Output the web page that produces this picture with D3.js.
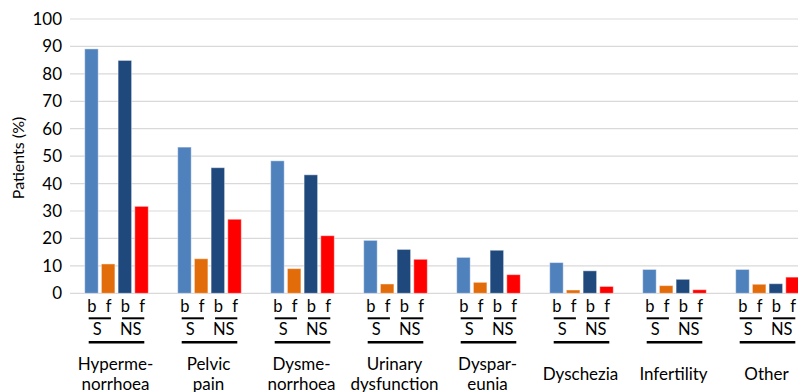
<!DOCTYPE html>
<html>
<head>
<meta charset="utf-8">
<script src="https://cdn.jsdelivr.net/npm/d3@7"></script>
<style>
  body { margin: 0; background: #fff; }
  svg { display: block; font-family: Lato, "Open Sans", sans-serif; }
</style>
</head>
<body>
<script>
const categories = ["Hypermenorrhoea", "Pelvic pain", "Dysmenorrhoea", "Urinary dysfunction",
  "Dyspareunia", "Dyschezia", "Infertility", "Other"];
const categoryLines = [["Hyperme-", "norrhoea"], ["Pelvic", "pain"], ["Dysme-", "norrhoea"],
  ["Urinary", "dysfunction"], ["Dyspar-", "eunia"], ["Dyschezia"], ["Infertility"], ["Other"]];
const series = ["S_b", "S_f", "NS_b", "NS_f"];
const seriesColors = ["#4f81bd", "#e36c0a", "#1f497d", "#ff0000"];
const S_b  = [89.1, 53.3, 48.3, 19.3, 13.1, 11.2, 8.7, 8.7];
const S_f  = [10.7, 12.6, 9.0, 3.4, 4.0, 1.2, 2.8, 3.3];
const NS_b = [84.9, 45.8, 43.2, 16.0, 15.7, 8.2, 5.1, 3.5];
const NS_f = [31.7, 27.0, 21.0, 12.4, 6.8, 2.5, 1.3, 5.9];
const yTicks = [0, 10, 20, 30, 40, 50, 60, 70, 80, 90, 100];

const totalWidth = 798;
const totalHeight = 392;

const data = categories.map((c, i) => ({
  cat: c,
  lines: categoryLines[i],
  values: [S_b[i], S_f[i], NS_b[i], NS_f[i]]
}));

const svg = d3.select("body")
  .append("svg")
  .attr("width", totalWidth)
  .attr("height", totalHeight);

const x0 = d3.scaleBand()
  .domain(categories)
  .range([70, 814]);

const x1 = d3.scaleBand()
  .domain(series)
  .range([14.7, 78.3])
  .paddingInner(0.19);

const y = d3.scaleLinear()
  .domain([0, 100])
  .range([293.3, 19]);

const color = d3.scaleOrdinal().domain(series).range(seriesColors);

// gridlines
svg.append("g")
  .selectAll("line")
  .data(yTicks)
  .enter()
  .append("line")
  .attr("x1", 70)
  .attr("x2", totalWidth)
  .attr("y1", d => y(d))
  .attr("y2", d => y(d))
  .attr("stroke", "#d9d9d9")
  .attr("stroke-width", 1.2);

// y axis tick labels
svg.append("g")
  .attr("transform", "translate(62,0)")
  .call(d3.axisLeft(y).tickValues(yTicks).tickSize(0).tickPadding(0))
  .call(g => g.select(".domain").remove())
  .selectAll("text")
  .attr("fill", "#000")
  .style("font-size", "17px")
  .style("font-family", "Lato, sans-serif");

svg.append("text")
  .attr("transform", "rotate(-90)")
  .attr("x", -158)
  .attr("y", 24)
  .attr("text-anchor", "middle")
  .attr("fill", "#000")
  .style("font-size", "16px")
  .text("Patients (%)");

// bars
const groups = svg.append("g")
  .selectAll("g")
  .data(data)
  .enter()
  .append("g")
  .attr("transform", d => `translate(${x0(d.cat)},0)`);

groups.selectAll("rect")
  .data(d => d.values.map((v, j) => ({ key: series[j], v })))
  .enter()
  .append("rect")
  .attr("x", d => x1(d.key))
  .attr("y", d => y(d.v))
  .attr("width", x1.bandwidth())
  .attr("height", d => y(0) - y(d.v))
  .attr("fill", d => color(d.key))
  .attr("stroke", "#ffffff")
  .attr("stroke-opacity", 0.45)
  .attr("stroke-width", 1);

// b / f labels under each bar
groups.selectAll("text.bf")
  .data(series)
  .enter()
  .append("text")
  .attr("class", "bf")
  .attr("x", d => x1(d) + x1.bandwidth() / 2 + 0.5)
  .attr("y", 311.5)
  .attr("text-anchor", "middle")
  .attr("fill", "#000")
  .style("font-size", "16.5px")
  .text(d => d.endsWith("_b") ? "b" : "f");

// short underline for each pair, then S / NS
const pairs = [["S_b", "S_f", "S"], ["NS_b", "NS_f", "NS"]];
groups.selectAll("line.pair")
  .data(pairs)
  .enter()
  .append("line")
  .attr("class", "pair")
  .attr("x1", d => x1(d[0]) + 4)
  .attr("x2", d => x1(d[1]) + x1.bandwidth() - 4)
  .attr("y1", 318.3)
  .attr("y2", 318.3)
  .attr("stroke", "#000")
  .attr("stroke-width", 2);

groups.selectAll("text.pair")
  .data(pairs)
  .enter()
  .append("text")
  .attr("class", "pair")
  .attr("x", d => (x1(d[0]) + x1(d[1]) + x1.bandwidth()) / 2 - 2.5)
  .attr("y", 335)
  .attr("text-anchor", "middle")
  .attr("fill", "#000")
  .style("font-size", "16.5px")
  .text(d => d[2]);

groups.append("line")
  .attr("x1", x1("S_b") + 4)
  .attr("x2", x1("NS_f") + x1.bandwidth() - 4)
  .attr("y1", 342.3)
  .attr("y2", 342.3)
  .attr("stroke", "#000")
  .attr("stroke-width", 2.5);

// category labels (second line runs to the bottom edge, as in the original)
groups.append("text")
  .attr("text-anchor", "middle")
  .attr("fill", "#000")
  .style("font-size", "17px")
  .selectAll("tspan")
  .data(d => d.lines.map(t => ({ t, n: d.lines.length })))
  .enter()
  .append("tspan")
  .attr("x", x0.bandwidth() / 2 - 1)
  .attr("y", (d, i) => d.n === 1 ? 379.5 : 370 + i * 19.5)
  .text(d => d.t);
</script>
</body>
</html>
